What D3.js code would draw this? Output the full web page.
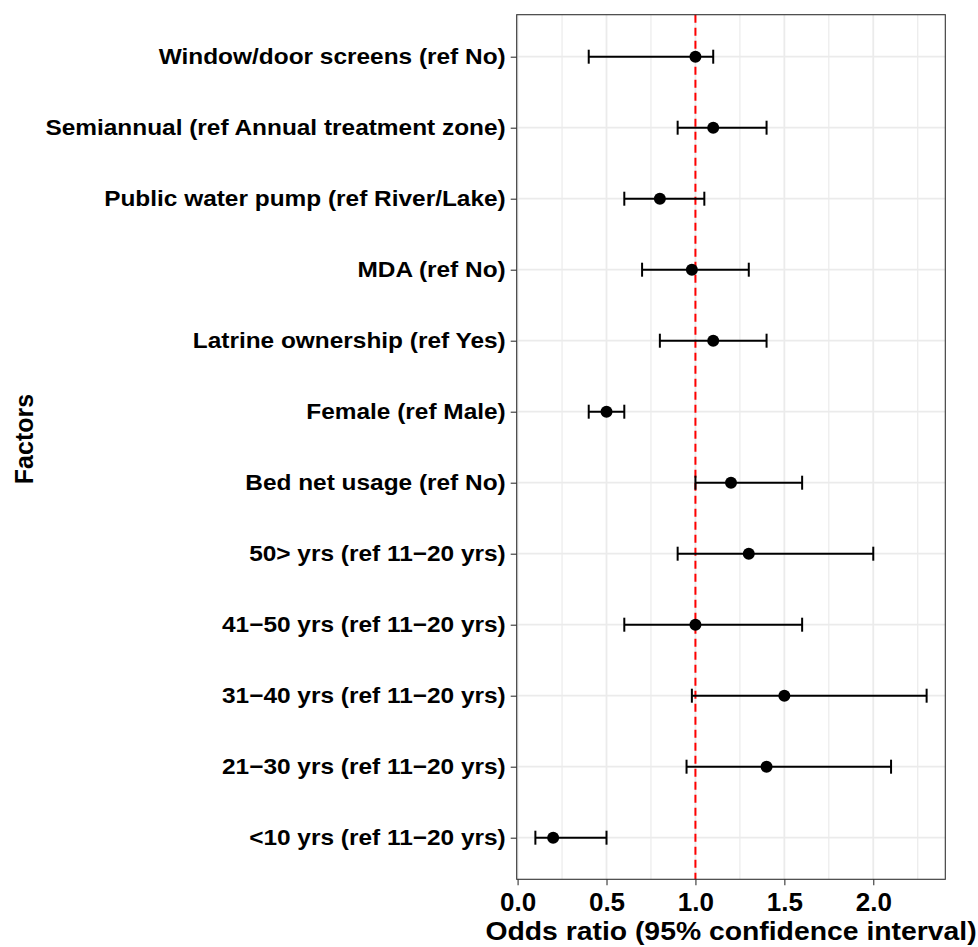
<!DOCTYPE html>
<html>
<head>
<meta charset="utf-8">
<script src="https://cdn.jsdelivr.net/npm/d3@7"></script>
<style>
  html, body { margin: 0; padding: 0; background: #fff; }
  svg { display: block; font-family: "Liberation Sans", Arial, Helvetica, sans-serif; }
</style>
</head>
<body>
<svg id="chart" width="978" height="947"></svg>
<script>
const factors = [
  "Window/door screens (ref No)",
  "Semiannual (ref Annual treatment zone)",
  "Public water pump (ref River/Lake)",
  "MDA (ref No)",
  "Latrine ownership (ref Yes)",
  "Female (ref Male)",
  "Bed net usage (ref No)",
  "50> yrs (ref 11\u221220 yrs)",
  "41\u221250 yrs (ref 11\u221220 yrs)",
  "31\u221240 yrs (ref 11\u221220 yrs)",
  "21\u221230 yrs (ref 11\u221220 yrs)",
  "<10 yrs (ref 11\u221220 yrs)"
];
const oddsRatio = [1.00, 1.10, 0.80, 0.98, 1.10, 0.50, 1.20, 1.30, 1.00, 1.50, 1.40, 0.20];
const lowerCI   = [0.40, 0.90, 0.60, 0.70, 0.80, 0.40, 1.00, 0.90, 0.60, 0.98, 0.95, 0.10];
const upperCI   = [1.10, 1.40, 1.05, 1.30, 1.40, 0.60, 1.60, 2.00, 1.60, 2.30, 2.10, 0.50];
const xTicks = [0.0, 0.5, 1.0, 1.5, 2.0];
const xMinorTicks = [0.25, 0.75, 1.25, 1.75, 2.25];
const refLine = 1.0;
const xTitle = "Odds ratio (95% confidence interval)";
const yTitle = "Factors";

const data = factors.map((f, i) => ({ factor: f, or: oddsRatio[i], lo: lowerCI[i], hi: upperCI[i] }));

const svg = d3.select("#chart");
const panel = { left: 516.7, right: 945.3, top: 14.7, bottom: 879.3 };

const x = d3.scaleLinear().domain([-0.005, 2.405]).range([panel.left, panel.right]);
const y = d3.scalePoint().domain(factors).range([56.7, 837.7]);

const g = svg.append("g");

g.append("rect")
  .attr("x", panel.left).attr("y", panel.top)
  .attr("width", panel.right - panel.left).attr("height", panel.bottom - panel.top)
  .attr("fill", "#fff");

g.selectAll("line.minor").data(xMinorTicks).join("line")
  .attr("x1", d => x(d)).attr("x2", d => x(d))
  .attr("y1", panel.top).attr("y2", panel.bottom)
  .attr("stroke", "#ebebeb").attr("stroke-width", 1.2);

g.selectAll("line.majx").data(xTicks).join("line")
  .attr("x1", d => x(d)).attr("x2", d => x(d))
  .attr("y1", panel.top).attr("y2", panel.bottom)
  .attr("stroke", "#ebebeb").attr("stroke-width", 1.8);

g.selectAll("line.majy").data(factors).join("line")
  .attr("x1", panel.left).attr("x2", panel.right)
  .attr("y1", d => y(d)).attr("y2", d => y(d))
  .attr("stroke", "#ebebeb").attr("stroke-width", 1.8);

g.append("line")
  .attr("x1", x(refLine)).attr("x2", x(refLine))
  .attr("y1", panel.top).attr("y2", panel.bottom)
  .attr("stroke", "#ff0000").attr("stroke-width", 2)
  .attr("stroke-dasharray", "8,5");

const eb = g.append("g").attr("stroke", "#000").attr("stroke-width", 2).attr("fill", "none");
eb.selectAll("line.h").data(data).join("line")
  .attr("x1", d => x(d.lo)).attr("x2", d => x(d.hi))
  .attr("y1", d => y(d.factor)).attr("y2", d => y(d.factor));
eb.selectAll("line.l").data(data).join("line")
  .attr("x1", d => x(d.lo)).attr("x2", d => x(d.lo))
  .attr("y1", d => y(d.factor) - 7).attr("y2", d => y(d.factor) + 7);
eb.selectAll("line.u").data(data).join("line")
  .attr("x1", d => x(d.hi)).attr("x2", d => x(d.hi))
  .attr("y1", d => y(d.factor) - 7).attr("y2", d => y(d.factor) + 7);

g.selectAll("circle").data(data).join("circle")
  .attr("cx", d => x(d.or)).attr("cy", d => y(d.factor))
  .attr("r", 6).attr("fill", "#000");

g.append("rect")
  .attr("x", panel.left).attr("y", panel.top)
  .attr("width", panel.right - panel.left).attr("height", panel.bottom - panel.top)
  .attr("fill", "none").attr("stroke", "#333").attr("stroke-width", 1.1);

// x axis
const xAxis = d3.axisBottom(x).tickValues(xTicks).tickFormat(d3.format(".1f")).tickSize(6).tickPadding(7);
const xg = svg.append("g").attr("transform", `translate(0,${panel.bottom})`).call(xAxis);
xg.select(".domain").remove();
xg.selectAll(".tick line").attr("stroke", "#333").attr("stroke-width", 1.1);
xg.selectAll(".tick text").attr("fill", "#000").attr("font-size", 26).attr("font-weight", "bold")
  .attr("font-family", "Liberation Sans, Arial, sans-serif");

// y axis
const yAxis = d3.axisLeft(y).tickSize(6).tickPadding(5);
const yg = svg.append("g").attr("transform", `translate(${panel.left},0)`).call(yAxis);
yg.select(".domain").remove();
yg.selectAll(".tick line").attr("stroke", "#333").attr("stroke-width", 1.1);
yg.selectAll(".tick text").attr("fill", "#000").attr("font-size", 22).attr("font-weight", "bold")
  .attr("font-family", "Liberation Sans, Arial, sans-serif")
  .attr("x", 0)
  .attr("transform", "translate(-11,0) scale(1.11,1)");

// titles
svg.append("text")
  .attr("transform", `translate(${(panel.left + panel.right) / 2},940) scale(1.09,1)`)
  .attr("text-anchor", "middle").attr("font-size", 26).attr("font-weight", "bold")
  .text(xTitle);
svg.append("text")
  .attr("transform", `translate(33,439) rotate(-90)`)
  .attr("text-anchor", "middle").attr("font-size", 25).attr("font-weight", "bold")
  .text(yTitle);
</script>
</body>
</html>
